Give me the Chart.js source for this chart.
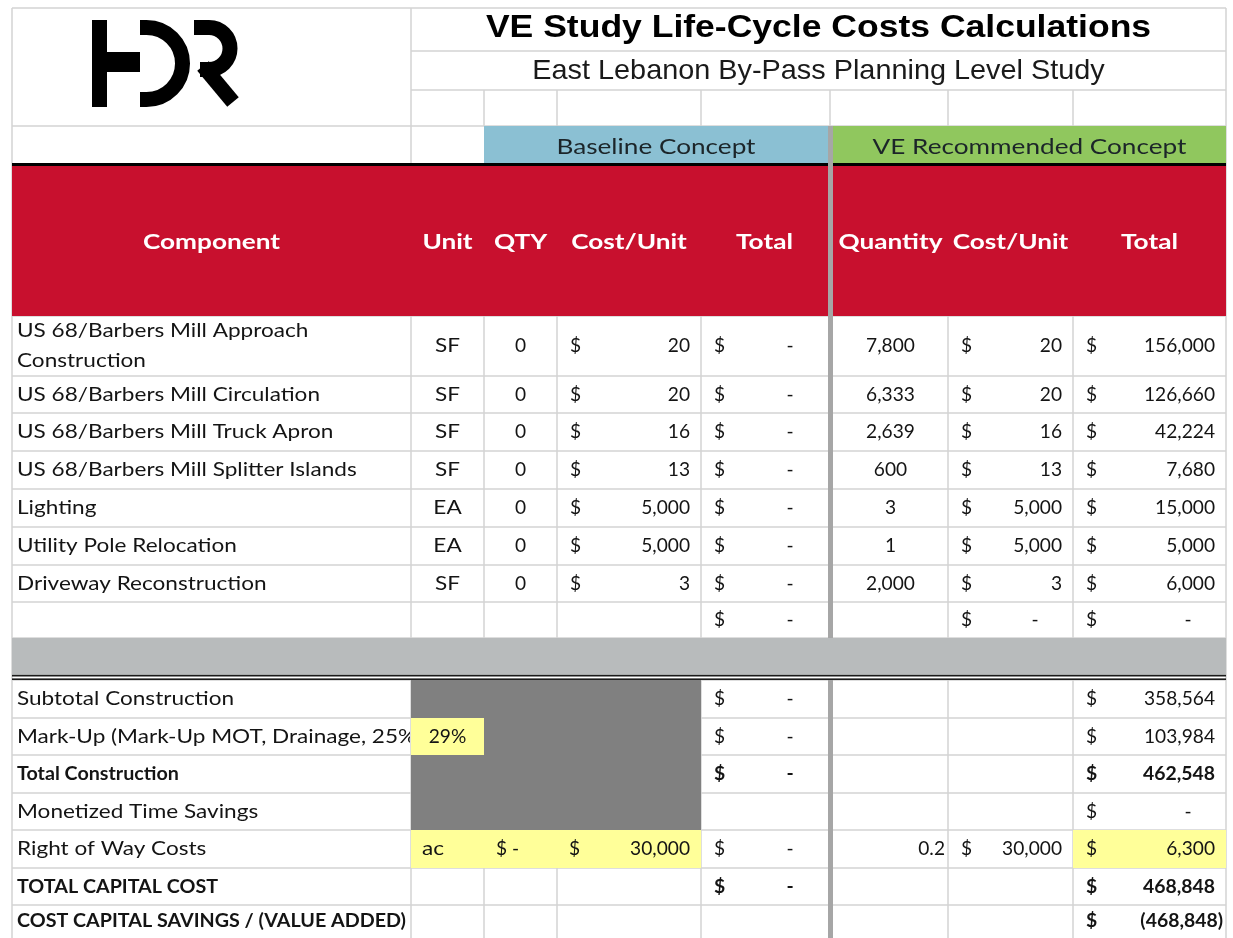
<!DOCTYPE html>
<html>
<head>
<meta charset="utf-8">
<script src="https://cdn.jsdelivr.net/npm/chart.js@4.4.0/dist/chart.umd.min.js"></script>
<style>
  html, body { margin: 0; padding: 0; background: #fff; }
  canvas { display: block; }
</style>
</head>
<body>
<canvas id="myChart" width="1233" height="938"></canvas>
<script>
// ---- data ----
const title = 'VE Study Life-Cycle Costs Calculations';
const subtitle = 'East Lebanon By-Pass Planning Level Study';
const groupLabels = ['Baseline Concept', 'VE Recommended Concept'];
const headers = ['Component', 'Unit', 'QTY', 'Cost/Unit', 'Total', 'Quantity', 'Cost/Unit', 'Total'];

const components = [
  ['US 68/Barbers Mill Approach', 'Construction'],
  ['US 68/Barbers Mill Circulation'],
  ['US 68/Barbers Mill Truck Apron'],
  ['US 68/Barbers Mill Splitter Islands'],
  ['Lighting'],
  ['Utility Pole Relocation'],
  ['Driveway Reconstruction'],
  ['']
];
const units = ['SF', 'SF', 'SF', 'SF', 'EA', 'EA', 'SF', ''];
const baselineQty = [0, 0, 0, 0, 0, 0, 0, null];
const baselineCostPerUnit = [20, 20, 16, 13, 5000, 5000, 3, null];
const baselineTotal = [0, 0, 0, 0, 0, 0, 0, 0];
const veQuantity = [7800, 6333, 2639, 600, 3, 1, 2000, null];
const veCostPerUnit = [20, 20, 16, 13, 5000, 5000, 3, 0];
const veTotal = [156000, 126660, 42224, 7680, 15000, 5000, 6000, 0];

const summaryLabels = [
  'Subtotal Construction',
  'Mark-Up (Mark-Up MOT, Drainage, 25%',
  'Total Construction',
  'Monetized Time Savings',
  'Right of Way Costs',
  'TOTAL CAPITAL COST',
  'COST CAPITAL SAVINGS / (VALUE ADDED)'
];
const summaryBold = [false, false, true, false, false, true, true];
const summaryBaselineTotal = [0, 0, 0, null, 0, 0, null];
const summaryVeTotal = [358564, 103984, 462548, 0, 6300, 468848, -468848];
const markUpRate = '29%';
const rowUnit = 'ac';
const rowBaselineQty = '$ -';
const rowCostPerAcre = 30000;
const rowVeQuantity = 0.2;

// ---- layout (sheet pixel units, mapped through the chart scales) ----
const colX = [12, 411, 484, 557, 701, 830, 948, 1073, 1226];
const topRowY = [8, 51, 90, 126, 163];
const bodyRowY = [316, 376, 413, 451, 489, 527, 565, 602, 638];
const summaryRowY = [680, 718, 755, 793, 830, 868, 905, 943];

const GRID = '#d4d4d4';
const RED = '#c8102e';
const BLUE = '#8bc0d3';
const GREEN = '#90c75e';
const BAND = '#b8bbbc';
const DARK = '#808080';
const YELLOW = '#ffff99';
const SEP = '#a6a6a6';
const INK = '#141414';

const fmt = v => Math.abs(v).toLocaleString('en-US');

const tablePlugin = {
  id: 'costTable',
  afterDraw(chart) {
    const ctx = chart.ctx;
    const sx = chart.scales.x, sy = chart.scales.y;
    const X = v => sx.getPixelForValue(v);
    const Y = v => sy.getPixelForValue(v);

    const rect = (x0, y0, x1, y1, c) => {
      ctx.fillStyle = c;
      ctx.fillRect(X(x0), Y(y0), X(x1) - X(x0), Y(y1) - Y(y0));
    };
    const hline = (x0, x1, y, c, w) => rect(x0, y - w / 2, x1, y + w / 2, c);
    const vline = (x, y0, y1, c, w) => rect(x - w / 2, y0, x + w / 2, y1, c);
    const widthOf = (font, s) => { ctx.font = font; return ctx.measureText(s).width; };
    // text styles, widened to the sheet's Calibri widths
    const style = (font, sample, target, color) =>
      ({ font, stretch: target / widthOf(font, sample), color: color || INK });
    const S = {
      label: style('19px Lato', 'US 68/Barbers Mill Circulation', 303),
      num: style('19px Lato', '156,000', 71),
      labelB: style('bold 19px Lato', 'COST CAPITAL SAVINGS / (VALUE ADDED)', 389),
      numB: style('bold 19px Lato', '468,848', 72),
      head: style('bold 21px Lato', 'Component', 137, '#ffffff'),
      band: style('21px Lato', 'Baseline Concept', 199, '#1c2529')
    };
    const text = (s, x, y, align, st, clipTo) => {
      ctx.save();
      if (clipTo) {
        ctx.beginPath();
        ctx.rect(X(clipTo[0]), Y(clipTo[1]), X(clipTo[2]) - X(clipTo[0]), Y(clipTo[3]) - Y(clipTo[1]));
        ctx.clip();
      }
      ctx.font = st.font;
      ctx.fillStyle = st.color;
      ctx.textAlign = align;
      ctx.textBaseline = 'middle';
      ctx.translate(X(x), Y(y));
      ctx.scale(st.stretch, 1);
      ctx.fillText(s, 0, 0);
      ctx.restore();
    };
    const mid = (a, b) => (a + b) / 2;

    ctx.save();
    rect(0, 0, 1233, 938, '#ffffff');

    // grid lines
    hline(colX[0], colX[8], topRowY[0], GRID, 1.5);
    hline(colX[1], colX[8], topRowY[1], GRID, 1.5);
    hline(colX[1], colX[8], topRowY[2], GRID, 1.5);
    hline(colX[0], colX[8], topRowY[3], GRID, 1.5);
    vline(colX[0], topRowY[0], 943, GRID, 1.5);
    vline(colX[8], topRowY[0], 943, GRID, 1.5);
    vline(colX[1], topRowY[0], topRowY[4], GRID, 1.5);
    for (let c = 2; c < 8; c++) vline(colX[c], topRowY[2], topRowY[3], GRID, 1.5);
    bodyRowY.forEach(y => hline(colX[0], colX[8], y, GRID, 1.5));
    for (let c = 1; c < 8; c++) vline(colX[c], bodyRowY[0], bodyRowY[8], GRID, 1.5);
    summaryRowY.forEach(y => hline(colX[0], colX[8], y, GRID, 1.5));
    for (let c = 1; c < 8; c++) vline(colX[c], summaryRowY[0], 943, GRID, 1.5);

    // fills
    rect(colX[2], topRowY[3], 828, topRowY[4], BLUE);
    rect(833, topRowY[3], colX[8], topRowY[4], GREEN);
    rect(colX[0], 166, colX[8], bodyRowY[0], RED);
    rect(colX[0], bodyRowY[8], colX[8], 675, BAND);
    rect(colX[1], summaryRowY[0], colX[4], summaryRowY[4], DARK);
    rect(colX[1], summaryRowY[1], colX[2], summaryRowY[2], YELLOW);
    rect(colX[1], summaryRowY[4], colX[4], summaryRowY[5], YELLOW);
    rect(colX[7], summaryRowY[4], colX[8], summaryRowY[5], YELLOW);

    // heavy rules
    rect(colX[0], 163, colX[8], 166, '#000000');
    hline(colX[0], colX[8], 675.7, '#1a1a1a', 1.6);
    hline(colX[0], colX[8], 679.2, '#1a1a1a', 1.6);
    rect(828, topRowY[3], 833, bodyRowY[8], SEP);
    rect(828, summaryRowY[0], 833, 943, SEP);

    // HDR logo
    ctx.strokeStyle = '#000000';
    rect(92, 20, 107, 107, '#000000');
    rect(107, 52, 140, 72, '#000000');
    ctx.lineWidth = 15;
    ctx.lineCap = 'butt';
    ctx.beginPath();
    ctx.moveTo(X(140), Y(27.5));
    ctx.lineTo(X(146.5), Y(27.5));
    ctx.arc(X(146.5), Y(63.5), X(36) - X(0), -Math.PI / 2, Math.PI / 2);
    ctx.lineTo(X(140), Y(99.5));
    ctx.stroke();
    ctx.beginPath();
    ctx.moveTo(X(194), Y(27.5));
    ctx.lineTo(X(209), Y(27.5));
    ctx.arc(X(209), Y(48.5), X(21) - X(0), -Math.PI / 2, Math.PI / 2);
    ctx.lineTo(X(200), Y(69.5));
    ctx.stroke();
    ctx.beginPath();
    ctx.moveTo(X(203), Y(66));
    ctx.lineTo(X(233), Y(102));
    ctx.stroke();

    // titles
    const titleSt = { font: 'bold 32px "Liberation Sans"', stretch: 1.11, color: '#000000' };
    const subSt = { font: '28px "Liberation Sans"', stretch: 1.03, color: '#1a1a1a' };
    text(title, mid(colX[1], colX[8]), 28, 'center', titleSt);
    text(subtitle, mid(colX[1], colX[8]), 71, 'center', subSt);
    text(groupLabels[0], mid(colX[2], 828), 147, 'center', S.band);
    text(groupLabels[1], mid(833, colX[8]), 147, 'center', S.band);

    // column headers
    headers.forEach((h, i) => {
      const a = i === 5 ? 833 : colX[i];
      const b = i === 4 ? 828 : colX[i + 1];
      text(h, mid(a, b), 242, 'center', S.head);
    });

    // accounting cell: "$" on the left, value on the right
    const acct = (c, y, v, st) => {
      const left = c === 5 ? 833 : colX[c];
      const right = c === 4 ? 828 : colX[c + 1];
      text('$', left + 13, y, 'left', st);
      if (v === 0) text('-', right - 38, y, 'center', st);
      else if (v < 0) text('(' + fmt(v) + ')', right - 3, y, 'right', st);
      else text(fmt(v), right - 11, y, 'right', st);
    };

    // body rows
    components.forEach((lines, r) => {
      const cy = mid(bodyRowY[r], bodyRowY[r + 1]);
      if (lines.length > 1) {
        text(lines[0], colX[0] + 5, cy - 15, 'left', S.label);
        text(lines[1], colX[0] + 5, cy + 15, 'left', S.label);
      } else if (lines[0]) {
        text(lines[0], colX[0] + 5, cy, 'left', S.label);
      }
      if (units[r]) text(units[r], mid(colX[1], colX[2]), cy, 'center', S.label);
      if (baselineQty[r] !== null) text(String(baselineQty[r]), mid(colX[2], colX[3]), cy, 'center', S.num);
      if (baselineCostPerUnit[r] !== null) acct(3, cy, baselineCostPerUnit[r], S.num);
      if (baselineTotal[r] !== null) acct(4, cy, baselineTotal[r], S.num);
      if (veQuantity[r] !== null) text(fmt(veQuantity[r]), mid(833, colX[6]), cy, 'center', S.num);
      if (veCostPerUnit[r] !== null) acct(6, cy, veCostPerUnit[r], S.num);
      if (veTotal[r] !== null) acct(7, cy, veTotal[r], S.num);
    });

    // summary rows
    summaryLabels.forEach((label, r) => {
      const y0 = summaryRowY[r], y1 = summaryRowY[r + 1];
      const cy = mid(y0, y1) - (r === 6 ? 3 : 0);
      const bold = summaryBold[r];
      text(label, colX[0] + 5, cy, 'left', bold ? S.labelB : S.label, [colX[0], y0, colX[1] - 1, y1]);
      const st = bold ? S.numB : S.num;
      if (summaryBaselineTotal[r] !== null) acct(4, cy, summaryBaselineTotal[r], st);
      if (summaryVeTotal[r] !== null) acct(7, cy, summaryVeTotal[r], st);
    });
    const my = mid(summaryRowY[1], summaryRowY[2]);
    text(markUpRate, mid(colX[1], colX[2]), my, 'center', S.num);
    const ry = mid(summaryRowY[4], summaryRowY[5]);
    text(rowUnit, colX[1] + 11, ry, 'left', S.label);
    text(rowBaselineQty, colX[2] + 12, ry, 'left', S.num);
    text('$', colX[3] + 12, ry, 'left', S.num);
    text(fmt(rowCostPerAcre), colX[4] - 11, ry, 'right', S.num);
    text(String(rowVeQuantity), colX[6] - 3, ry, 'right', S.num);
    text('$', colX[6] + 13, ry, 'left', S.num);
    text(fmt(rowCostPerAcre), colX[7] - 11, ry, 'right', S.num);

    ctx.restore();
  }
};

const config = {
  type: 'scatter',
  data: { datasets: [] },
  options: {
    responsive: false,
    animation: false,
    devicePixelRatio: 1,
    layout: { padding: 0 },
    plugins: { legend: { display: false }, tooltip: { enabled: false } },
    scales: {
      x: { type: 'linear', min: 0, max: 1233, display: false },
      y: { type: 'linear', min: 0, max: 938, reverse: true, display: false }
    }
  },
  plugins: [tablePlugin]
};

const myChart = new Chart(document.getElementById('myChart'), config);
</script>
</body>
</html>
